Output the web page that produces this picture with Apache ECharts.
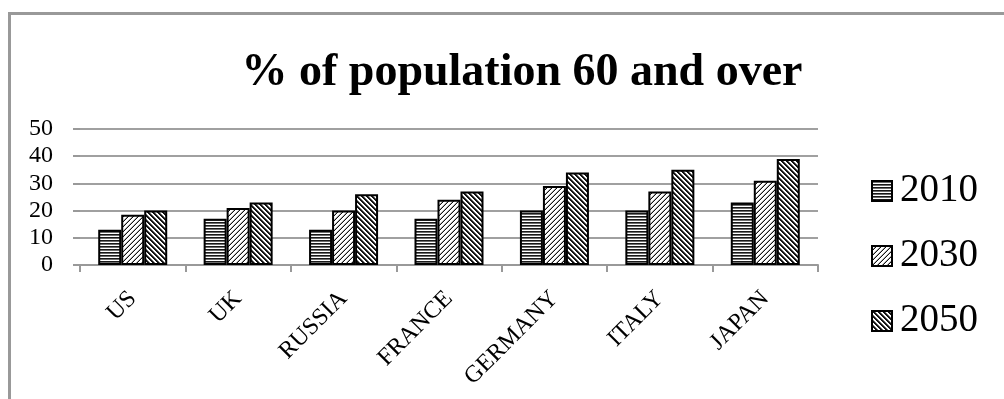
<!DOCTYPE html>
<html>
<head>
<meta charset="utf-8">
<script src="https://cdn.jsdelivr.net/npm/echarts@6/dist/echarts.min.js"></script>
<style>
  html, body { margin: 0; padding: 0; background: #fff; }
  #chart { width: 1004px; height: 399px; }
</style>
</head>
<body>
<div id="chart"></div>
<script>
// Countries on the category axis
const countries = ['US', 'UK', 'RUSSIA', 'FRANCE', 'GERMANY', 'ITALY', 'JAPAN'];
// Share of population aged 60 and over, by year (%)
const y2010 = [13, 17, 13, 17, 20, 20, 23];
const y2030 = [18.5, 21, 20, 24, 29, 27, 31];
const y2050 = [20, 23, 26, 27, 34, 35, 39];
const yearNames = ['2010', '2030', '2050'];
const yTicks = [0, 10, 20, 30, 40, 50];

// Build small tiled fill patterns (stripes / hatching) on canvases
function makeTile(w, h, shade) {
  const c = document.createElement('canvas');
  c.width = w; c.height = h;
  const ctx = c.getContext('2d');
  const img = ctx.createImageData(w, h);
  for (let y = 0; y < h; y++) {
    for (let x = 0; x < w; x++) {
      const v = shade(x, y);
      const i = (y * w + x) * 4;
      img.data[i] = img.data[i + 1] = img.data[i + 2] = v;
      img.data[i + 3] = 255;
    }
  }
  ctx.putImageData(img, 0, 0);
  return c;
}
// horizontal stripes
const stripes = makeTile(4, 3, (x, y) => [25, 110, 255][y]);
// light forward hatching "/"
const lightHatch = makeTile(5, 5, (x, y) => {
  const k = (x + y) % 5;
  return k === 4 ? 20 : (k === 3 ? 170 : 255);
});
// dark backward hatching "\"
const darkHatch = makeTile(5, 5, (x, y) => {
  const k = ((x - y) % 5 + 5) % 5;
  return k <= 1 ? 20 : (k === 2 ? 110 : 255);
});

const fills = [stripes, lightHatch, darkHatch];
const seriesData = [y2010, y2030, y2050];
const serif = 'Liberation Serif';

const chart = echarts.init(document.getElementById('chart'), null, { renderer: 'canvas' });

chart.setOption({
  animation: false,
  backgroundColor: '#fff',
  title: {
    text: '% of population 60 and over',
    left: 517,
    textAlign: 'center',
    top: 45,
    textStyle: { fontFamily: serif, fontWeight: 'bold', fontSize: 46, color: '#000' }
  },
  graphic: [{
    type: 'rect',
    shape: { x: 9.5, y: 13.5, width: 1200, height: 600 },
    style: { fill: 'none', stroke: '#999', lineWidth: 3 },
    silent: true
  }],
  legend: {
    orient: 'vertical',
    left: 866,
    top: 166,
    itemWidth: 20,
    itemHeight: 20,
    itemGap: 25,
    icon: 'rect',
    textStyle: { fontFamily: serif, fontSize: 39, color: '#000', lineHeight: 40, padding: [0, 0, 0, 3] },
    data: yearNames
  },
  grid: { left: 80, right: 186, top: 129, bottom: 134, containLabel: false },
  xAxis: {
    type: 'category',
    data: countries,
    axisLine: { show: true, lineStyle: { color: '#999', width: 2 } },
    axisTick: { show: true, length: 7, lineStyle: { color: '#999', width: 2 } },
    axisLabel: { rotate: 45, margin: 30, fontFamily: serif, fontSize: 24, color: '#000' },
    splitLine: { show: false }
  },
  yAxis: {
    type: 'value',
    min: yTicks[0],
    max: yTicks[yTicks.length - 1],
    interval: 10,
    axisLine: { show: false },
    axisTick: { show: true, length: 7, lineStyle: { color: '#999', width: 2 } },
    axisLabel: { margin: 27, fontFamily: serif, fontSize: 24, color: '#000' },
    splitLine: { show: true, lineStyle: { color: '#a0a0a0', width: 2 } }
  },
  series: yearNames.map((name, i) => ({
    name: name,
    type: 'bar',
    data: seriesData[i],
    barWidth: 23,
    barGap: '0%',
    itemStyle: {
      color: { image: fills[i], repeat: 'repeat' },
      borderColor: '#000',
      borderWidth: 2
    }
  }))
});
</script>
</body>
</html>
